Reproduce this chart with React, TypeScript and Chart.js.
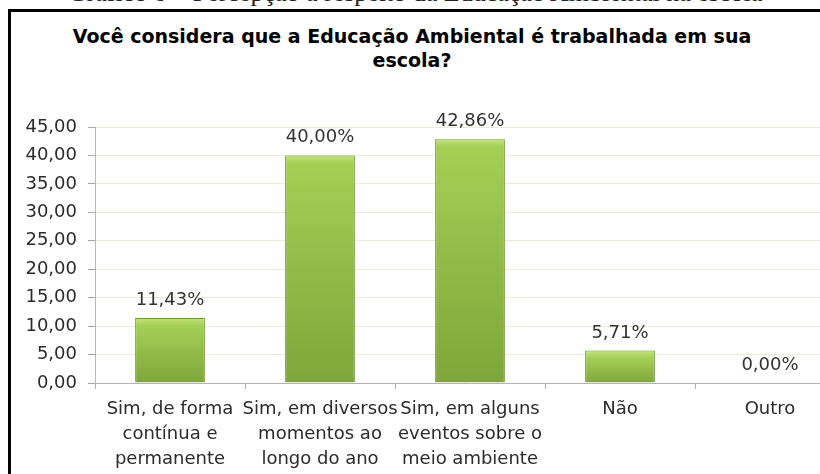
import React, { useEffect, useRef } from 'react';
import { Chart, registerables } from 'chart.js';

Chart.register(...registerables);

const captionText = 'Gráfico 8 – Percepção a respeito da Educação Ambiental na escola';
const titleLines = ['Você considera que a Educação Ambiental é trabalhada em sua', 'escola?'];
const categories: (string | string[])[] = [
  ['Sim, de forma', 'contínua e', 'permanente'],
  ['Sim, em diversos', 'momentos ao', 'longo do ano'],
  ['Sim, em alguns', 'eventos sobre o', 'meio ambiente'],
  'Não',
  'Outro',
];
const values = [11.43, 40.0, 42.86, 5.71, 0.0];
const yMin = 0;
const yMax = 45;
const yStep = 5;

const FONT = "'DejaVu Sans', 'Liberation Sans', sans-serif";
const fmt = (v: number) => v.toFixed(2).replace('.', ',');

const labelPlugin = {
  id: 'barValueLabels',
  afterDatasetsDraw(chart: any) {
    const ctx = chart.ctx;
    const meta = chart.getDatasetMeta(0);
    ctx.save();
    ctx.font = `18px ${FONT}`;
    ctx.fillStyle = '#333333';
    ctx.textAlign = 'center';
    ctx.textBaseline = 'alphabetic';
    meta.data.forEach((el: any, i: number) => {
      ctx.fillText(fmt(values[i]) + '%', el.x, el.y - 13);
    });
    ctx.restore();
  },
};

export default function App() {
  const ref = useRef<HTMLCanvasElement | null>(null);

  useEffect(() => {
    if (!ref.current) return;
    const chart = new Chart(ref.current, {
      type: 'bar',
      data: {
        labels: categories,
        datasets: [
          {
            data: values,
            backgroundColor: (c: any) => {
              const ch = c.chart;
              const ys = ch.scales && ch.scales.y;
              if (!ys || c.raw === undefined) return '#8fbc45';
              const top = ys.getPixelForValue(c.raw);
              const bot = ys.getPixelForValue(0);
              if (!isFinite(top) || !isFinite(bot) || bot - top < 1) return '#8fbc45';
              const g = ch.ctx.createLinearGradient(0, top, 0, bot);
              g.addColorStop(0, '#c2e37e');
              g.addColorStop(Math.min(0.5, 8 / (bot - top)), '#a3cf55');
              g.addColorStop(1, '#7ea63a');
              return g;
            },
            borderColor: '#6d962f',
            borderWidth: 1,
            barPercentage: 0.465,
            categoryPercentage: 1,
          },
        ],
      },
      options: {
        responsive: false,
        animation: false,
        devicePixelRatio: 1,
        layout: { padding: { top: 127, left: 0, right: 5, bottom: 0 } },
        plugins: {
          legend: { display: false },
          title: { display: false },
          tooltip: { enabled: false },
        },
        scales: {
          x: {
            grid: {
              display: true,
              drawOnChartArea: false,
              drawTicks: true,
              tickLength: 6,
              tickColor: '#b0b0b0',
            },
            border: { color: '#b3b3b3', width: 1 },
            ticks: {
              color: '#2b2b2b',
              font: { family: FONT, size: 18, lineHeight: 1.39 },
              padding: 8,
              maxRotation: 0,
              autoSkip: false,
            },
            afterFit: (s: any) => {
              s.height = 91;
            },
          },
          y: {
            min: yMin,
            max: yMax,
            grid: {
              color: '#ecebd8',
              tickColor: '#a8a8a8',
              tickLength: 7,
            },
            border: { color: '#b8b8b8', width: 1 },
            ticks: {
              stepSize: yStep,
              color: '#2b2b2b',
              font: { family: FONT, size: 18 },
              padding: 11,
              callback: (v: any) => fmt(Number(v)),
            },
            afterFit: (s: any) => {
              s.width = 95;
            },
          },
        },
      },
      plugins: [labelPlugin],
    });
    return () => chart.destroy();
  }, []);

  return (
    <div
      style={{
        position: 'fixed',
        left: 0,
        top: 0,
        width: 820,
        height: 474,
        overflow: 'hidden',
        background: '#ffffff',
      }}
    >
      <div
        style={{
          position: 'absolute',
          left: 0,
          top: -20,
          width: 830,
          textAlign: 'center',
          fontFamily: "'Liberation Serif', serif",
          fontSize: 26,
          lineHeight: '26px',
          color: '#222',
          whiteSpace: 'nowrap',
        }}
      >
        {captionText}
      </div>
      <div
        style={{
          position: 'absolute',
          left: 8,
          top: 9,
          width: 1000,
          height: 1000,
          borderLeft: '3px solid #000',
          borderTop: '3px solid #000',
          boxSizing: 'border-box',
          background: '#fff',
        }}
      />
      <div
        style={{
          position: 'absolute',
          left: 4,
          top: 24,
          width: 816,
          textAlign: 'center',
          fontFamily: FONT,
          fontWeight: 'bold',
          fontSize: 19,
          lineHeight: '24px',
          color: '#000',
          whiteSpace: 'nowrap',
        }}
      >
        {titleLines.map((t, i) => (
          <div key={i}>{t}</div>
        ))}
      </div>
      <canvas
        ref={ref}
        width={850}
        height={474}
        style={{ position: 'absolute', left: 0, top: 0, width: 850, height: 474 }}
      />
    </div>
  );
}
